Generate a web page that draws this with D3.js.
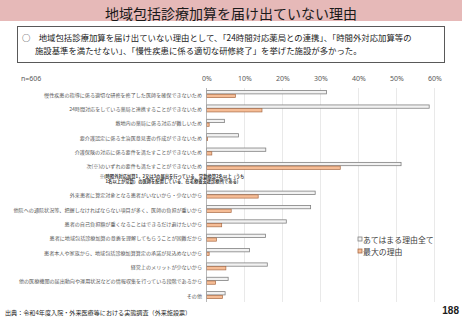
<!DOCTYPE html>
<html>
<head>
<meta charset="utf-8">
<script src="https://cdn.jsdelivr.net/npm/d3@7"></script>
<style>
  html, body { margin: 0; padding: 0; background: #fff; }
  svg { display: block; font-family: "Noto Sans CJK JP", "Noto Sans", sans-serif; }
</style>
</head>
<body>
<svg id="chart" width="462" height="320"></svg>
<script>
const categories = [
  "慢性疾患の指導に係る適切な研修を修了した医師を確保できないため",
  "24時間対応をしている薬局と連携することができないため",
  "敷地内の薬局に係る対応が難しいため",
  "要介護認定に係る主治医意見書の作成ができないため",
  "介護保険の対応に係る要件を満たすことができないため",
  "次(※)のいずれの要件も満たすことができないため",
  "外来患者に算定対象となる患者がいないから・少ないから",
  "他院への通院状況等、把握しなければならない項目が多く、医師の負担が重いから",
  "患者の自己負担額が重くなることはできるだけ避けたいから",
  "患者に地域包括診療加算の意義を理解してもらうことが困難だから",
  "患者本人や家族から、地域包括診療加算算定の承諾が見込めないから",
  "経営上のメリットが少ないから",
  "他の医療機関の届出動向や運用状況などの情報収集を行っている段階であるから",
  "その他"
];
const allReasons = [31.6, 58.6, 4.7, 8.4, 15.6, 51.2, 28.6, 27.4, 21.0, 15.5, 11.3, 16.0, 5.7, 4.9];
const mainReason = [7.6, 14.6, 0.7, 0.3, 1.4, 35.2, 13.6, 6.5, 4.0, 2.6, 0.7, 5.1, 2.4, 4.2];
const seriesNames = ["あてはまる理由全て", "最大の理由"];
const xTicks = [0, 10, 20, 30, 40, 50, 60];
const noteLines = [
  "※(時間外対応加算1，2又は3の届出を行っている、常勤換算2名以上（うち",
  "1名以上が常勤）の医師を配置している、在宅療養支援診療所である)"
];
const noteAfter = 5; // note row sits after this category

const svg = d3.select("#chart");
const W = 462, H = 320;

// title band
svg.append("rect").attr("x", 0).attr("y", 0).attr("width", W).attr("height", 21)
  .attr("fill", "#e6b9b8");
svg.append("text").attr("x", 231).attr("y", 13)
  .attr("text-anchor", "middle").attr("dominant-baseline", "central")
  .attr("font-size", 14).attr("fill", "#1a1a1a")
  .text("地域包括診療加算を届け出ていない理由");

// summary box
svg.append("rect").attr("x", 17.5).attr("y", 26.5).attr("width", 427).attr("height", 36)
  .attr("fill", "#fff").attr("stroke", "#595959").attr("stroke-width", 1);
svg.append("text").attr("x", 22).attr("y", 37).attr("dominant-baseline", "central")
  .attr("font-size", 8.4).attr("fill", "#1a1a1a")
  .text("○　地域包括診療加算を届け出ていない理由として、「24時間対応薬局との連携」、「時間外対応加算等の");
svg.append("text").attr("x", 35).attr("y", 49.5).attr("dominant-baseline", "central")
  .attr("font-size", 8.4).attr("fill", "#1a1a1a")
  .text("施設基準を満たせない」、「慢性疾患に係る適切な研修終了」を挙げた施設が多かった。");

// scales
const slots = [];
categories.forEach((c, i) => {
  slots.push("c" + i);
  if (i === noteAfter) slots.push("note");
});
const x = d3.scaleLinear().domain([0, 60]).range([206.5, 434.5]);
const y = d3.scaleBand().domain(slots).range([87, 302.4]).padding(0);
const cy = i => y("c" + i) + y.bandwidth() / 2;

const g = svg.append("g");

// gridlines
g.selectAll(".grid").data(xTicks.slice(1)).enter().append("line")
  .attr("x1", d => x(d)).attr("x2", d => x(d))
  .attr("y1", 88).attr("y2", 302)
  .attr("stroke", "#e3e3e3").attr("stroke-width", 0.8);

// tick labels
const xAxis = d3.axisTop(x).tickValues(xTicks).tickFormat(d => d + "%").tickSize(0).tickPadding(0);
const ax = svg.append("g").attr("transform", "translate(0,81)").call(xAxis);
ax.select(".domain").remove();
ax.selectAll("text").attr("font-size", 7).attr("fill", "#595959")
  .attr("font-family", "Noto Sans, sans-serif");

svg.append("text").attr("x", 21).attr("y", 78).attr("dominant-baseline", "central")
  .attr("font-size", 7).attr("fill", "#595959").attr("font-family", "Noto Sans, sans-serif")
  .text("n=606");

// bars
const bh = 3.3;
g.selectAll(".all").data(allReasons).enter().append("rect")
  .attr("x", x(0)).attr("y", (d, i) => cy(i) - 3.6)
  .attr("width", d => x(d) - x(0)).attr("height", bh)
  .attr("fill", "#f2f2f2").attr("stroke", "#808080").attr("stroke-width", 0.8);
g.selectAll(".main").data(mainReason).enter().append("rect")
  .attr("x", x(0)).attr("y", (d, i) => cy(i) + 0.1)
  .attr("width", d => x(d) - x(0)).attr("height", bh)
  .attr("fill", "#f6bd96").attr("stroke", "#a86a45").attr("stroke-width", 0.7);

// axis line
g.append("line").attr("x1", x(0)).attr("x2", x(0)).attr("y1", 88).attr("y2", 302)
  .attr("stroke", "#a6a6a6").attr("stroke-width", 0.8);

// category labels
g.selectAll(".lab").data(categories).enter().append("text")
  .attr("x", 202).attr("y", (d, i) => cy(i))
  .attr("text-anchor", "end").attr("dominant-baseline", "central")
  .attr("font-size", 5.1).attr("fill", "#595959")
  .text(d => d);

// note
const ny = y("note");
g.selectAll(".note").data(noteLines).enter().append("text")
  .attr("x", 172).attr("y", (d, i) => ny + 3 + i * 5)
  .attr("text-anchor", "middle").attr("dominant-baseline", "central")
  .attr("font-size", 4.3).attr("font-weight", "bold").attr("fill", "#404040")
  .text(d => d);

// legend
const legendColors = [["#f2f2f2", "#808080"], ["#f6bd96", "#a86a45"]];
const lg = svg.append("g").attr("transform", "translate(358,239)");
seriesNames.forEach((s, i) => {
  lg.append("rect").attr("x", 0).attr("y", i * 12 - 2).attr("width", 4).attr("height", 4)
    .attr("fill", legendColors[i][0]).attr("stroke", legendColors[i][1]).attr("stroke-width", 0.8);
  lg.append("text").attr("x", 5).attr("y", i * 12).attr("dominant-baseline", "central")
    .attr("font-size", 7.9).attr("fill", "#404040").text(s);
});

// footer
svg.append("text").attr("x", 5).attr("y", 312).attr("dominant-baseline", "central")
  .attr("font-size", 6.1).attr("fill", "#262626")
  .text("出典：令和4年度入院・外来医療等における実態調査（外来施設票）");
svg.append("text").attr("x", 459).attr("y", 310).attr("text-anchor", "end")
  .attr("dominant-baseline", "central")
  .attr("font-size", 10).attr("font-weight", "bold").attr("fill", "#1a1a1a")
  .attr("font-family", "Liberation Sans, sans-serif")
  .text("188");
</script>
</body>
</html>
